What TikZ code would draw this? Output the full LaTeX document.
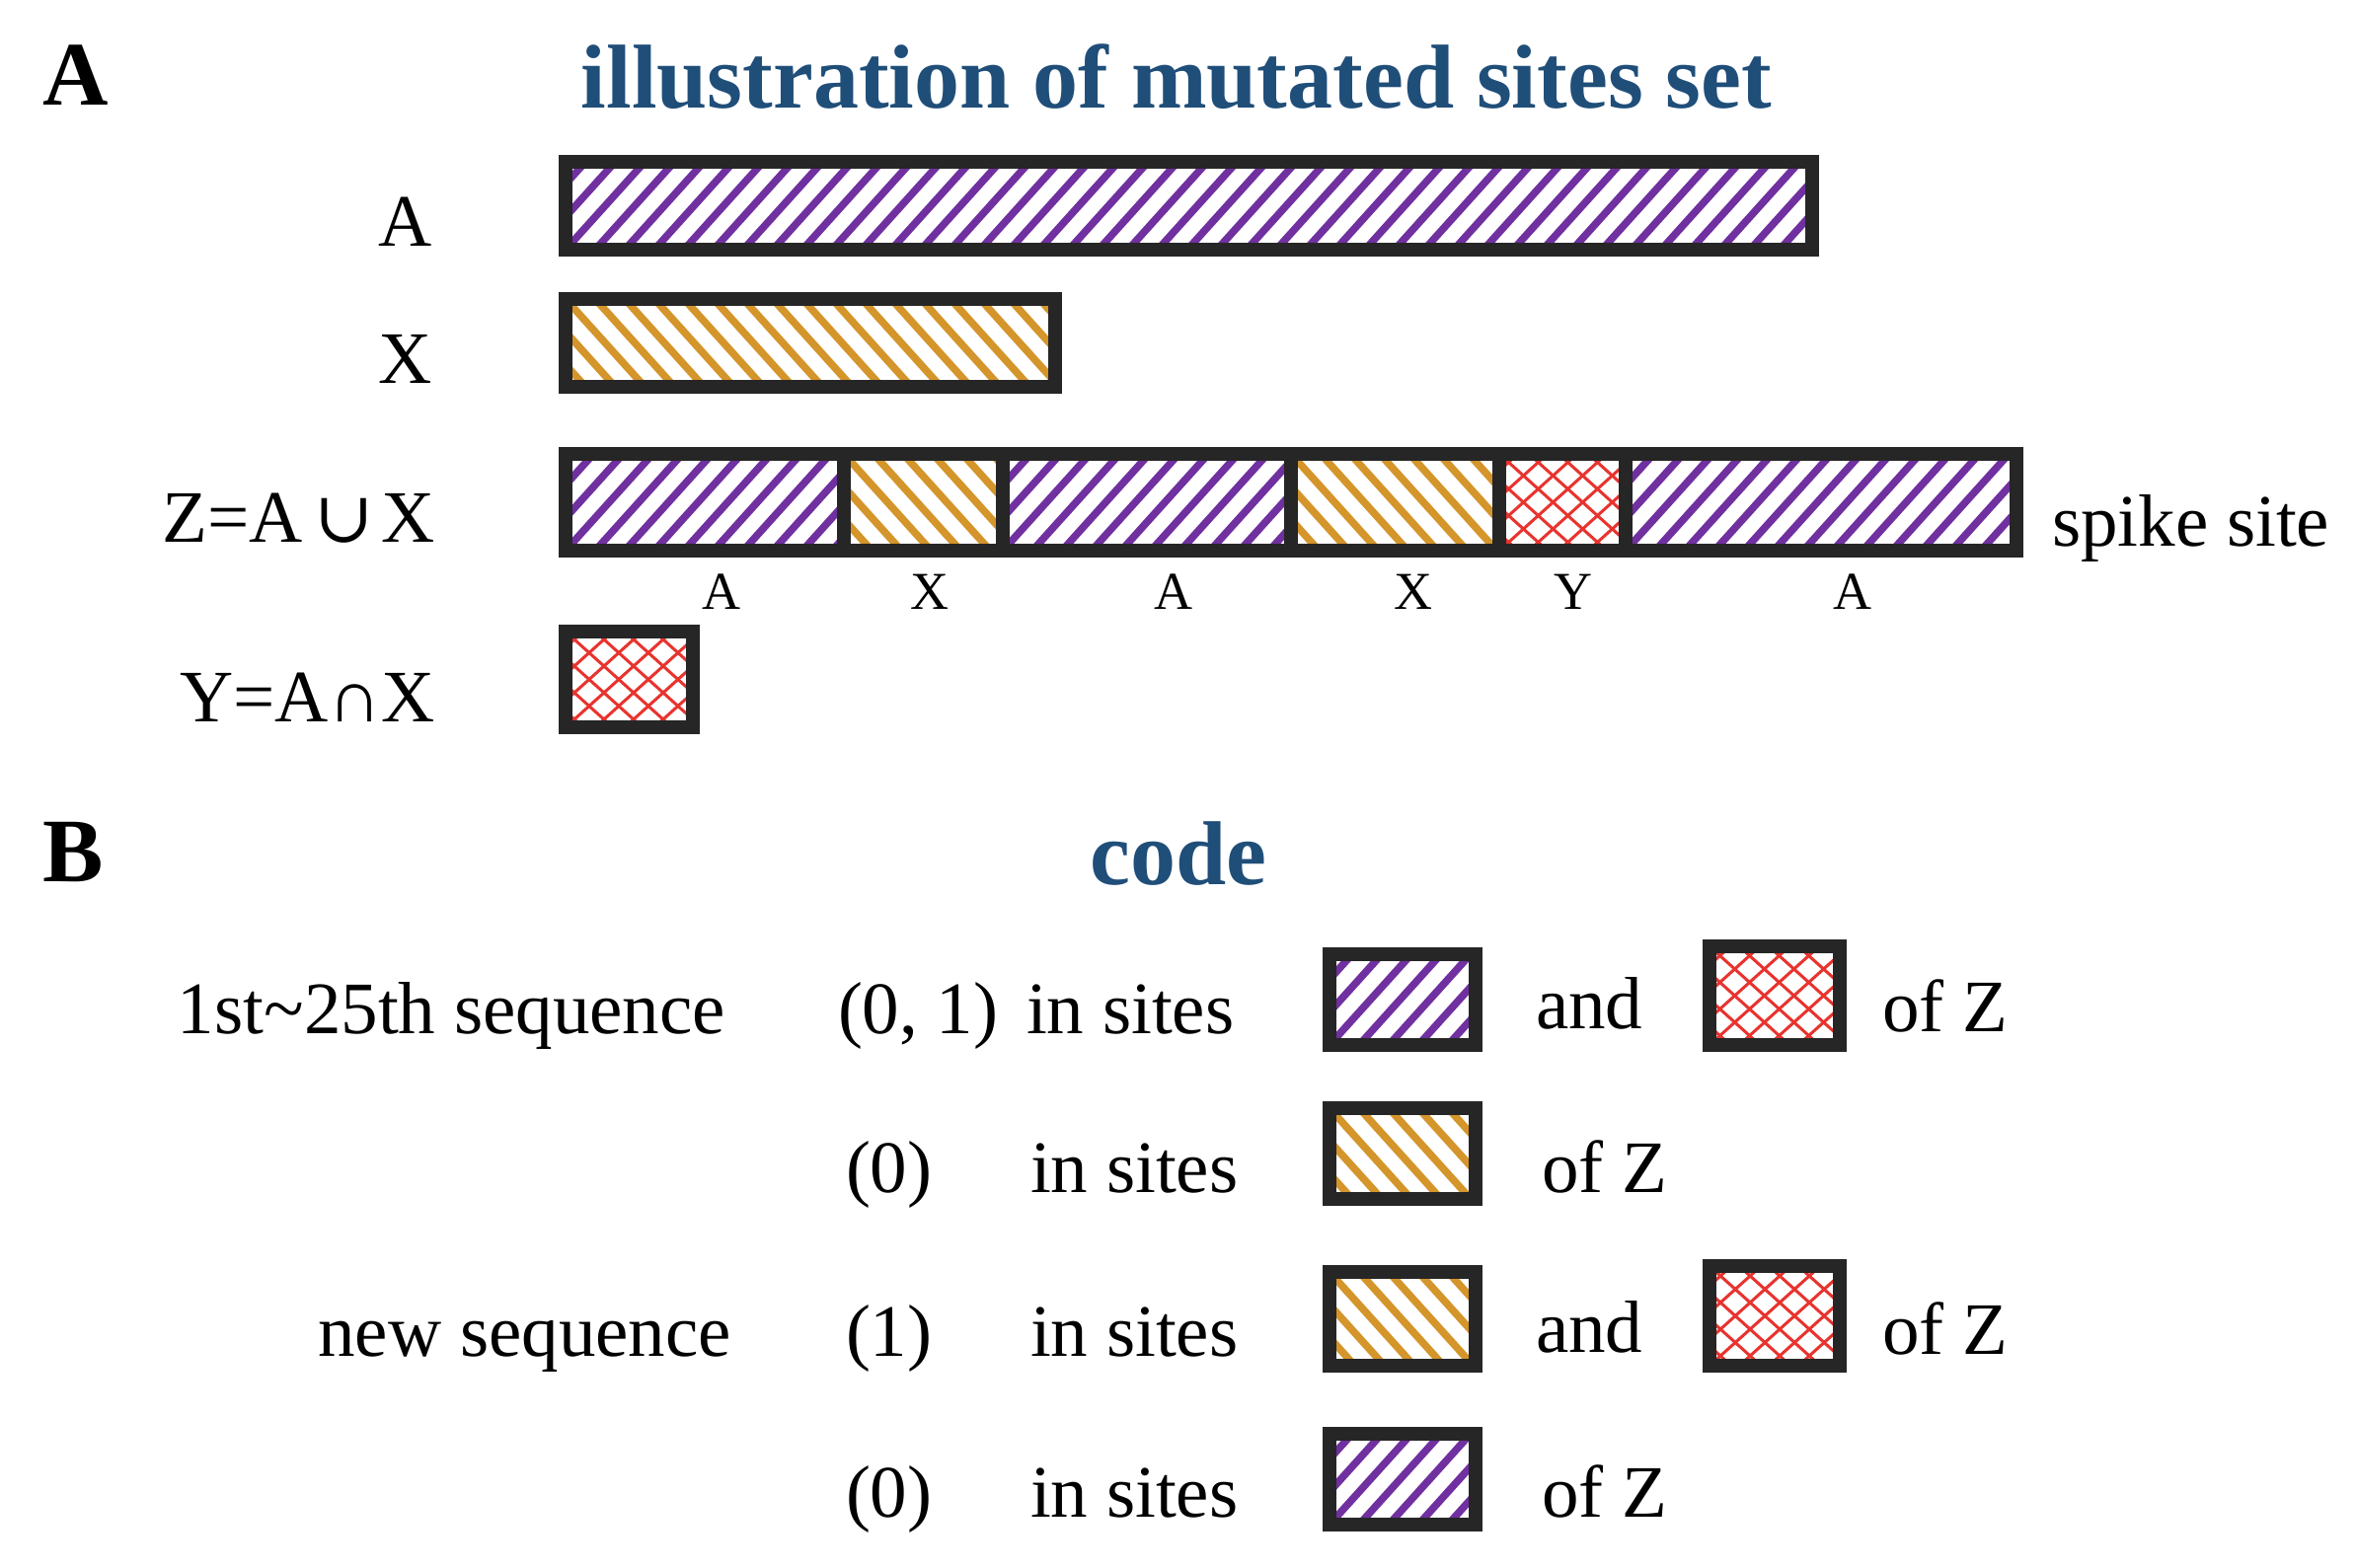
\documentclass[tikz,border=0pt]{standalone}
\usepackage{fontspec}
\setmainfont{Liberation Serif}
\newfontfamily\symfont{DejaVu Serif}
\definecolor{bordergray}{HTML}{262626}
\definecolor{purp}{HTML}{7030A0}
\definecolor{gold}{HTML}{D4952B}
\definecolor{redx}{HTML}{E8332E}
\definecolor{titleblue}{HTML}{1F4E79}
\tikzset{
  box/.style={draw=bordergray, line width=14pt, inner sep=0pt, outer sep=0pt, anchor=north west, fill=white},
  phatch/.style={path picture={
    \foreach \k in {-4,...,43}{
      \draw[purp, line width=7.5pt] ([xshift=\k*30pt]path picture bounding box.south west) -- ++(110pt,122pt);
    }}},
  ohatch/.style={path picture={
    \foreach \k in {-4,...,20}{
      \draw[gold, line width=7.5pt] ([xshift=\k*30pt]path picture bounding box.north west) -- ++(110pt,-122pt);
    }}},
  rhatch/.style={path picture={
    \foreach \k in {-6,...,6}{
      \draw[redx, line width=3pt] ([xshift=\k*30pt]path picture bounding box.south west) -- ++(150pt,135pt);
      \draw[redx, line width=3pt] ([xshift=\k*30pt]path picture bounding box.north west) -- ++(150pt,-135pt);
    }}},
  txt/.style={font=\fontsize{75pt}{80pt}\selectfont, inner sep=0pt, outer sep=0pt},
  smalltxt/.style={font=\fontsize{54pt}{60pt}\selectfont, inner sep=0pt, outer sep=0pt, anchor=base},
  panel/.style={font=\fontsize{92pt}{100pt}\selectfont\bfseries, inner sep=0pt, outer sep=0pt, anchor=base west},
  heading/.style={font=\fontsize{92pt}{100pt}\selectfont\bfseries, text=titleblue, inner sep=0pt, outer sep=0pt, anchor=base},
}
\begin{document}
\begin{tikzpicture}[x=1pt,y=-1pt]
\useasboundingbox (0,0) rectangle (2387,1589);

% Panel A
\node[panel] (pA) at (43,107) {A};
\node[heading] (tA) at (1192,110) {illustration of mutated sites set};

\node[box, phatch, minimum width=1263pt, minimum height=89pt] (barA) at (573,164) {};
\node[box, ohatch, minimum width=496pt, minimum height=89pt] (barX) at (573,303) {};

\node[box, phatch, minimum width=282pt, minimum height=98pt] (z1) at (573,460) {};
\node[box, ohatch, minimum width=161pt, minimum height=98pt] (z2) at (855,460) {};
\node[box, phatch, minimum width=292pt, minimum height=98pt] (z3) at (1016,460) {};
\node[box, ohatch, minimum width=211pt, minimum height=98pt] (z4) at (1308,460) {};
\node[box, rhatch, minimum width=128pt, minimum height=98pt] (z5) at (1519,460) {};
\node[box, phatch, minimum width=396pt, minimum height=98pt] (z6) at (1647,460) {};

\node[box, rhatch, minimum width=129pt, minimum height=97pt] (barY) at (573,640) {};

\node[txt, anchor=base east] (lA) at (438,250) {A};
\node[txt, anchor=base east] (lX) at (438,388) {X};
\node[txt, anchor=base east] (lZ) at (441,549) {Z=A\kern12pt{\symfont\fontsize{72pt}{72pt}\selectfont ∪}\kern8pt X};
\node[txt, anchor=base east] (lY) at (441,731) {Y=A∩X};
\node[txt, anchor=base west] (spike) at (2079,553) {spike site};

\node[smalltxt] (u1) at (731,617) {A};
\node[smalltxt] (u2) at (942,617) {X};
\node[smalltxt] (u3) at (1189,617) {A};
\node[smalltxt] (u4) at (1432,617) {X};
\node[smalltxt] (u5) at (1594,617) {Y};
\node[smalltxt] (u6) at (1877,617) {A};

% Panel B
\node[panel] (pB) at (43,893) {B};
\node[heading] (tB) at (1194,896) {code};

% row 1
\node[txt, anchor=base east] (r1a) at (735,1047) {1st\textasciitilde 25th sequence};
\node[txt, anchor=base west] (r1b) at (849,1047) {(0, 1)};
\node[txt, anchor=base west] (r1c) at (1040,1047) {in sites};
\node[box, phatch, minimum width=148pt, minimum height=92pt] (k1p) at (1347,967) {};
\node[txt, anchor=base west] (r1d) at (1556,1042) {and};
\node[box, rhatch, minimum width=132pt, minimum height=100pt] (k1r) at (1732,959) {};
\node[txt, anchor=base west] (r1e) at (1907,1045) {of Z};

% row 2
\node[txt, anchor=base west] (r2b) at (857,1208) {(0)};
\node[txt, anchor=base west] (r2c) at (1044,1208) {in sites};
\node[box, ohatch, minimum width=148pt, minimum height=92pt] (k2o) at (1347,1123) {};
\node[txt, anchor=base west] (r2e) at (1562,1208) {of Z};

% row 3
\node[txt, anchor=base east] (r3a) at (741,1374) {new sequence};
\node[txt, anchor=base west] (r3b) at (857,1374) {(1)};
\node[txt, anchor=base west] (r3c) at (1044,1374) {in sites};
\node[box, ohatch, minimum width=148pt, minimum height=95pt] (k3o) at (1347,1289) {};
\node[txt, anchor=base west] (r3d) at (1556,1370) {and};
\node[box, rhatch, minimum width=132pt, minimum height=101pt] (k3r) at (1732,1283) {};
\node[txt, anchor=base west] (r3e) at (1907,1372) {of Z};

% row 4
\node[txt, anchor=base west] (r4b) at (857,1537) {(0)};
\node[txt, anchor=base west] (r4c) at (1044,1537) {in sites};
\node[box, phatch, minimum width=148pt, minimum height=92pt] (k4p) at (1347,1453) {};
\node[txt, anchor=base west] (r4e) at (1562,1537) {of Z};
\end{tikzpicture}
\end{document}
